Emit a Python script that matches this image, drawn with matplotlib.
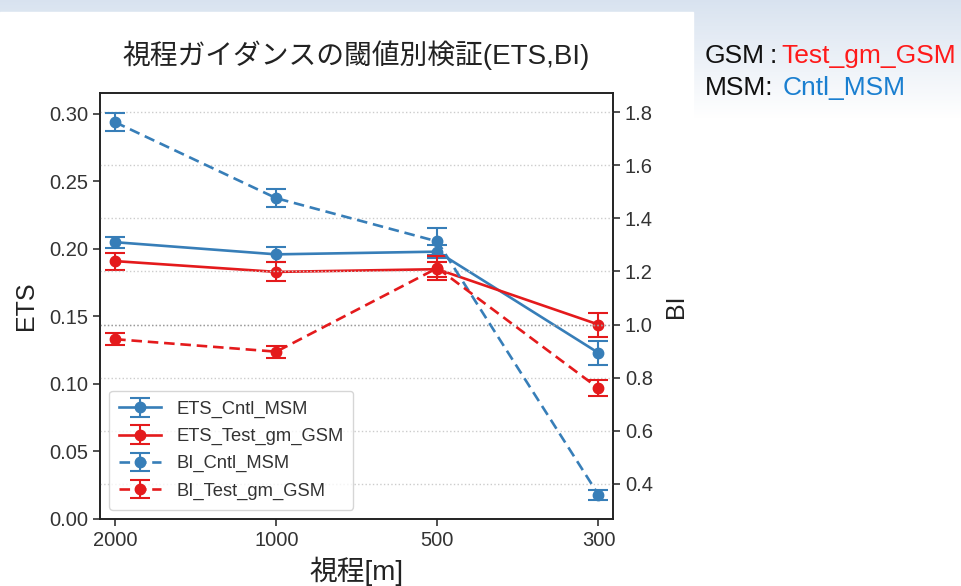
import matplotlib
matplotlib.use('Agg')
import matplotlib.pyplot as plt
from matplotlib.patches import Rectangle
import numpy as np

plt.rcParams['font.family'] = ['Liberation Sans', 'Noto Sans CJK JP']

# data
x_labels = ['2000', '1000', '500', '300']
ets_cntl = [0.205, 0.196, 0.198, 0.123]
ets_cntl_err = [0.004, 0.0055, 0.005, 0.009]
ets_test = [0.191, 0.183, 0.185, 0.144]
ets_test_err = [0.0063, 0.007, 0.0055, 0.0089]
bi_cntl = [1.762, 1.476, 1.313, 0.359]
bi_cntl_err = [0.034, 0.034, 0.05, 0.02]
bi_test = [0.945, 0.898, 1.213, 0.760]
bi_test_err = [0.023, 0.023, 0.045, 0.03]

blue = '#377eb8'
red = '#e41a1c'
text_col = '#333333'


def draw_background(fig):
    # slide-like background: light blue gradient on top, white chart area
    bg = fig.add_axes([0, 0, 1, 1], zorder=-10)
    grad = np.linspace(0, 1, 256).reshape(-1, 1)
    top = np.array([0.85, 0.89, 0.94])
    img = top + (1 - top) * np.clip(grad / 0.2, 0, 1)[..., None]
    bg.imshow(img, aspect='auto', extent=[0, 1, 0, 1], origin='upper')
    bg.add_patch(Rectangle((0.0, 0.0), 693 / 961, 1 - 12 / 586, color='white', zorder=2))
    bg.set_xlim(0, 1)
    bg.set_ylim(0, 1)
    bg.axis('off')


def draw_chart():
    fig = plt.figure(figsize=(9.61, 5.86), dpi=100)
    draw_background(fig)

    ax = fig.add_axes([100 / 961, 67 / 586, 513 / 961, 426 / 586])
    ax2 = ax.twinx()
    x = np.arange(len(x_labels))

    kw = dict(marker='o', markersize=7.5, linewidth=1.9, capsize=7, elinewidth=1.5, capthick=1.5)
    h1 = ax.errorbar(x, ets_cntl, yerr=ets_cntl_err, color=blue, ls='-', label='ETS_Cntl_MSM', **kw)
    h2 = ax.errorbar(x, ets_test, yerr=ets_test_err, color=red, ls='-', label='ETS_Test_gm_GSM', **kw)
    h3 = ax2.errorbar(x, bi_cntl, yerr=bi_cntl_err, color=blue, ls='--', label='BI_Cntl_MSM', **kw)
    h4 = ax2.errorbar(x, bi_test, yerr=bi_test_err, color=red, ls='--', label='BI_Test_gm_GSM', **kw)
    for h in (h3, h4):
        h.lines[0].set_dashes((4, 2.2))

    ax2.grid(axis='y', ls=':', color='#cccccc', lw=1)
    ax2.axhline(1.0, ls=':', color='#999999', lw=1)

    ax.set_xlim(-0.094, 3.09)
    ax.set_xticks(x)
    ax.set_xticklabels(x_labels)
    ax.set_ylim(0, 0.3155)
    ax.set_yticks(np.arange(0, 0.31, 0.05))
    ax.set_yticklabels(['%.2f' % v for v in np.arange(0, 0.31, 0.05)])
    ax2.set_ylim(0.268, 1.872)
    ax2.set_yticks(np.arange(0.4, 1.81, 0.2))
    ax2.set_yticklabels(['%.1f' % v for v in np.arange(0.4, 1.81, 0.2)])

    for a in (ax, ax2):
        a.tick_params(labelsize=14.5, colors=text_col, length=5, width=1.2)
        for s in a.spines.values():
            s.set_color('#222222')
            s.set_linewidth(1.2)

    ax.set_ylabel('ETS', fontsize=18, color='#222222', labelpad=8)
    ax2.set_ylabel('BI', fontsize=18, color='#222222', labelpad=8)
    ax.set_xlabel('視程[m]', fontsize=20, color='#222222', labelpad=5)
    ax.set_title('視程ガイダンスの閾値別検証(ETS,BI)', fontsize=20, color='#222222', pad=21)

    leg = ax2.legend([h1, h2, h3, h4], ['ETS_Cntl_MSM', 'ETS_Test_gm_GSM', 'BI_Cntl_MSM', 'BI_Test_gm_GSM'],
                     loc='lower left', fontsize=13.2, handlelength=2.3, borderpad=0.55, labelspacing=0.55)
    for t in leg.get_texts():
        t.set_color(text_col)

    fig.text(705 / 961, 1 - 63 / 586, 'GSM', fontsize=19, color='#111111')
    fig.text(770 / 961, 1 - 63 / 586, ':', fontsize=19, color='#111111')
    fig.text(781 / 961, 1 - 63 / 586, 'Test_gm_GSM', fontsize=19, color='#ff1a1a')
    fig.text(705 / 961, 1 - 95 / 586, 'MSM:', fontsize=19, color='#111111')
    fig.text(783 / 961, 1 - 95 / 586, 'Cntl_MSM', fontsize=19, color='#1a7fd0')

    fig.savefig('out.png', dpi=100)


if __name__ == '__main__':
    draw_chart()
